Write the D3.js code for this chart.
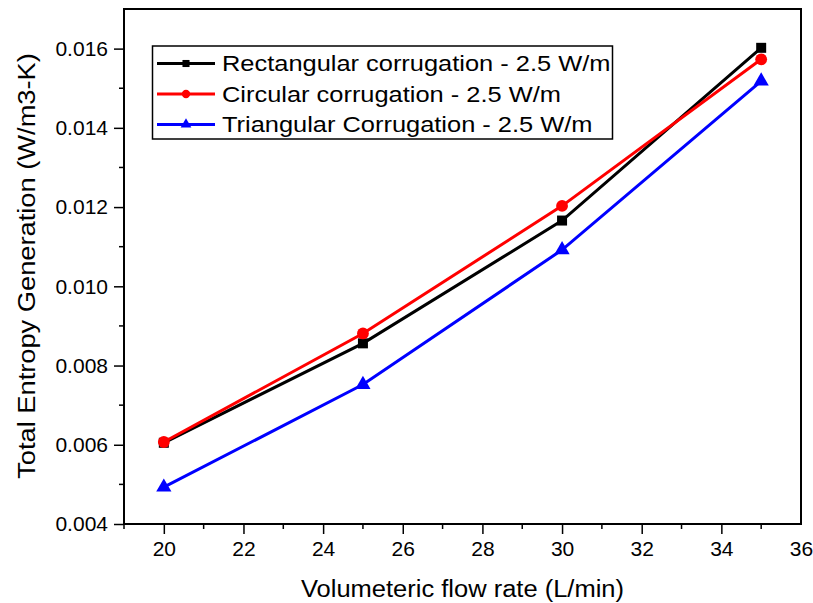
<!DOCTYPE html>
<html>
<head>
<meta charset="utf-8">
<script src="https://cdn.jsdelivr.net/npm/d3@7"></script>
<style>
  html, body { margin: 0; padding: 0; background: #ffffff; }
  svg { display: block; font-family: "Liberation Sans", Arial, sans-serif; }
</style>
</head>
<body>
<svg id="chart" width="813" height="603"></svg>
<script>
// Volumetric flow rate (L/min)
const flowRates = [20, 25, 30, 35];
// Total entropy generation (W/m3-K) for each corrugation profile
const rectangular = [0.00605, 0.00856, 0.01166, 0.01602];
const circular    = [0.00607, 0.00881, 0.01203, 0.01573];
const triangular  = [0.00493, 0.00752, 0.01092, 0.01518];

const seriesNames = [
  "Rectangular corrugation - 2.5 W/m",
  "Circular corrugation - 2.5 W/m",
  "Triangular Corrugation - 2.5 W/m"
];
const seriesColors = ["#000000", "#ff0000", "#0000ff"];
const seriesSymbols = [d3.symbolSquare, d3.symbolCircle, d3.symbolTriangle];

const xTicks = [20, 22, 24, 26, 28, 30, 32, 34, 36];
const yTicks = [0.004, 0.006, 0.008, 0.010, 0.012, 0.014, 0.016];

const xTitle = "Volumeteric flow rate (L/min)";
const yTitle = "Total Entropy Generation (W/m3-K)";

const series = [rectangular, circular, triangular].map((vals, i) => ({
  name: seriesNames[i],
  color: seriesColors[i],
  symbol: seriesSymbols[i],
  points: flowRates.map((x, j) => ({ x, y: vals[j] }))
}));

const margin = { left: 124, right: 12, top: 9, bottom: 79 };
const W = 813, H = 603;
const svg = d3.select("#chart");

const x = d3.scaleLinear().domain([19, 36]).range([margin.left, W - margin.right]);
const y = d3.scaleLinear().domain([0.004, 0.017]).range([H - margin.bottom, margin.top]);

const plotW = x.range()[1] - x.range()[0];
const plotH = y.range()[0] - y.range()[1];

// Stretch a text element along its baseline by a factor
function widen(sel, factor) {
  sel.each(function () {
    const w = this.getComputedTextLength();
    d3.select(this).attr("textLength", w * factor).attr("lengthAdjust", "spacingAndGlyphs");
  });
}

// Minor ticks
const xMinor = d3.range(19, 37, 1).filter(v => v % 2 !== 0);
const yMinor = d3.range(5, 17, 2).map(v => v / 1000);

const gx = svg.append("g").attr("transform", `translate(0,${y.range()[0]})`);
gx.call(d3.axisBottom(x).tickValues(xTicks).tickSize(10).tickPadding(7).tickFormat(d3.format("d")));
gx.selectAll(".tick").filter(d => d === 36).select("line").remove();
gx.append("g").selectAll("line").data(xMinor).join("line")
  .attr("x1", d => x(d)).attr("x2", d => x(d)).attr("y1", 0).attr("y2", 5)
  .attr("stroke", "#000").attr("stroke-width", 1.5);

const gy = svg.append("g").attr("transform", `translate(${x.range()[0]},0)`);
gy.call(d3.axisLeft(y).tickValues(yTicks).tickSize(10).tickPadding(6).tickFormat(d3.format(".3f")));
gy.append("g").selectAll("line").data(yMinor).join("line")
  .attr("y1", d => y(d)).attr("y2", d => y(d)).attr("x1", 0).attr("x2", -5)
  .attr("stroke", "#000").attr("stroke-width", 1.5);

[gx, gy].forEach(g => {
  g.select(".domain").remove();
  g.selectAll(".tick line").attr("stroke", "#000").attr("stroke-width", 1.5);
  g.selectAll(".tick text").attr("fill", "#000").style("font-size", "21px")
    .style("font-family", "'Liberation Sans', Arial, sans-serif");
});

// Plot frame
svg.append("rect")
  .attr("x", x.range()[0]).attr("y", y.range()[1])
  .attr("width", plotW).attr("height", plotH)
  .attr("fill", "none").attr("stroke", "#000").attr("stroke-width", 2);

// Series lines and markers
const line = d3.line().x(d => x(d.x)).y(d => y(d.y));
const markerSize = { square: 100, circle: 110, triangle: 100 };
const legendSize = { square: 50, circle: 55, triangle: 50 };
const kind = s => s === d3.symbolSquare ? "square" : (s === d3.symbolCircle ? "circle" : "triangle");

series.forEach(s => {
  svg.append("path").datum(s.points)
    .attr("d", line).attr("fill", "none")
    .attr("stroke", s.color).attr("stroke-width", 3);
  svg.append("g").selectAll("path").data(s.points).join("path")
    .attr("transform", d => `translate(${x(d.x)},${y(d.y)})`)
    .attr("d", d3.symbol().type(s.symbol).size(markerSize[kind(s.symbol)]))
    .attr("fill", s.color);
});

// Legend
const lg = svg.append("g");
lg.append("rect").attr("x", 152.5).attr("y", 46).attr("width", 460).attr("height", 93)
  .attr("fill", "#fff").attr("stroke", "#000").attr("stroke-width", 1.5);
series.forEach((s, i) => {
  const cy = 63.5 + i * 30.5;
  lg.append("line").attr("x1", 157).attr("x2", 215).attr("y1", cy).attr("y2", cy)
    .attr("stroke", s.color).attr("stroke-width", 3);
  lg.append("path").attr("transform", `translate(186,${cy})`)
    .attr("d", d3.symbol().type(s.symbol).size(legendSize[kind(s.symbol)])).attr("fill", s.color);
  lg.append("text").attr("x", 222).attr("y", cy).attr("dy", "0.36em")
    .style("font-size", "22px").attr("fill", "#000").text(s.name)
    .call(widen, 1.155);
});

// Axis titles
svg.append("text")
  .attr("x", 462.5).attr("y", 597)
  .attr("text-anchor", "middle").style("font-size", "23.5px").attr("fill", "#000")
  .text(xTitle)
  .call(widen, 1.085);
svg.append("text")
  .attr("transform", `translate(35,266)rotate(-90)`)
  .attr("text-anchor", "middle").style("font-size", "23.5px").attr("fill", "#000")
  .text(yTitle)
  .call(widen, 1.16);
</script>
</body>
</html>
